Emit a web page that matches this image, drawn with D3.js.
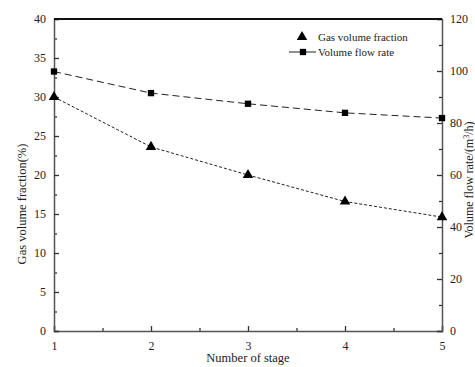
<!DOCTYPE html>
<html>
<head>
<meta charset="utf-8">
<script src="https://cdn.jsdelivr.net/npm/d3@7"></script>
<style>
body { margin: 0; background: #fff; }
svg { display: block; font-family: "Liberation Serif", "DejaVu Serif", serif; }
</style>
</head>
<body>
<script>
var stages = [1, 2, 3, 4, 5];
var gasFraction = [30, 23.6, 20, 16.6, 14.6];
var flowRate = [99.8, 91.5, 87.4, 83.9, 81.9];
var leftTicks = [0, 5, 10, 15, 20, 25, 30, 35, 40];
var rightTicks = [0, 20, 40, 60, 80, 100, 120];

var width = 475, height = 367;
var margin = {left: 54, right: 33, top: 19, bottom: 36};
var w = width - margin.left - margin.right;
var h = height - margin.top - margin.bottom;

var svg = d3.select("body").append("svg").attr("width", width).attr("height", height);
var g = svg.append("g").attr("transform", "translate(" + margin.left + "," + margin.top + ")");

var x = d3.scaleLinear().domain([1, 5]).range([0, w]);
var yL = d3.scaleLinear().domain([0, 40]).range([h, 0]);
var yR = d3.scaleLinear().domain([0, 120]).range([h, 0]);

// minor ticks
g.append("g").attr("transform", "translate(0," + h + ")")
  .call(d3.axisBottom(x).tickValues(d3.range(1.5, 5, 1)).tickSize(-3).tickFormat(""))
  .call(function(s){ s.select(".domain").remove(); });
g.append("g")
  .call(d3.axisLeft(yL).tickValues(d3.range(2.5, 40, 5)).tickSize(-3).tickFormat(""))
  .call(function(s){ s.select(".domain").remove(); });
g.append("g").attr("transform", "translate(" + w + ",0)")
  .call(d3.axisRight(yR).tickValues(d3.range(10, 120, 20)).tickSize(-3).tickFormat(""))
  .call(function(s){ s.select(".domain").remove(); });

// major axes
g.append("g").attr("transform", "translate(0," + h + ")")
  .call(d3.axisBottom(x).tickValues(stages).tickSize(-5).tickPadding(10).tickFormat(d3.format("d")));
g.append("g")
  .call(d3.axisLeft(yL).tickValues(leftTicks).tickSize(-5).tickPadding(8));
g.append("g").attr("transform", "translate(" + w + ",0)")
  .call(d3.axisRight(yR).tickValues(rightTicks).tickSize(-5).tickPadding(8));

svg.selectAll(".tick text").attr("font-family", "Liberation Serif").attr("font-size", 12).attr("fill", "#222");
svg.selectAll(".domain").attr("stroke", "#555").attr("stroke-width", 1.5);
svg.selectAll(".tick line").attr("stroke", "#333").attr("stroke-width", 1.3);

// top border
g.append("line").attr("x1", 0).attr("x2", w).attr("y1", 0).attr("y2", 0)
  .attr("stroke", "#111").attr("stroke-width", 2);

// series
var gasPts = stages.map(function(s, i){ return [x(s), yL(gasFraction[i])]; });
var flowPts = stages.map(function(s, i){ return [x(s), yR(flowRate[i])]; });
var line = d3.line();

g.append("path").attr("d", line(flowPts)).attr("fill", "none")
  .attr("stroke", "#222").attr("stroke-width", 1).attr("stroke-dasharray", "7,4");
g.append("path").attr("d", line(gasPts)).attr("fill", "none")
  .attr("stroke", "#222").attr("stroke-width", 1).attr("stroke-dasharray", "3,2");

var tri = d3.symbol().type(d3.symbolTriangle).size(48);
var sq = d3.symbol().type(d3.symbolSquare).size(40);

g.selectAll(".tri").data(gasPts).enter().append("path")
  .attr("d", tri).attr("transform", function(d){ return "translate(" + d[0] + "," + d[1] + ")"; })
  .attr("fill", "#000");
g.selectAll(".sq").data(flowPts).enter().append("path")
  .attr("d", sq).attr("transform", function(d){ return "translate(" + d[0] + "," + d[1] + ")"; })
  .attr("fill", "#000");

// legend
var lg = svg.append("g").attr("font-size", 11).attr("fill", "#222");
lg.append("path").attr("d", tri).attr("transform", "translate(302,37)").attr("fill", "#000");
lg.append("text").attr("x", 318).attr("y", 41).text("Gas volume fraction");
lg.append("line").attr("x1", 289).attr("x2", 316).attr("y1", 52).attr("y2", 52).attr("stroke", "#222");
lg.append("path").attr("d", sq).attr("transform", "translate(303,52)").attr("fill", "#000");
lg.append("text").attr("x", 318).attr("y", 56).text("Volume flow rate");

// axis titles
svg.append("text").attr("x", 248).attr("y", 362).attr("text-anchor", "middle")
  .attr("font-size", 12.5).attr("fill", "#222").text("Number of stage");
svg.append("text").attr("transform", "translate(26,204) rotate(-90)").attr("text-anchor", "middle")
  .attr("font-size", 12.5).attr("fill", "#222").text("Gas volume fraction(%)");
var rt = svg.append("text").attr("transform", "translate(473,180) rotate(-90)").attr("text-anchor", "middle")
  .attr("font-size", 12).attr("fill", "#222");
rt.append("tspan").text("Volume flow rate/(m");
rt.append("tspan").attr("dy", -4).attr("font-size", 8).text("3");
rt.append("tspan").attr("dy", 4).text("/h)");
</script>
</body>
</html>
